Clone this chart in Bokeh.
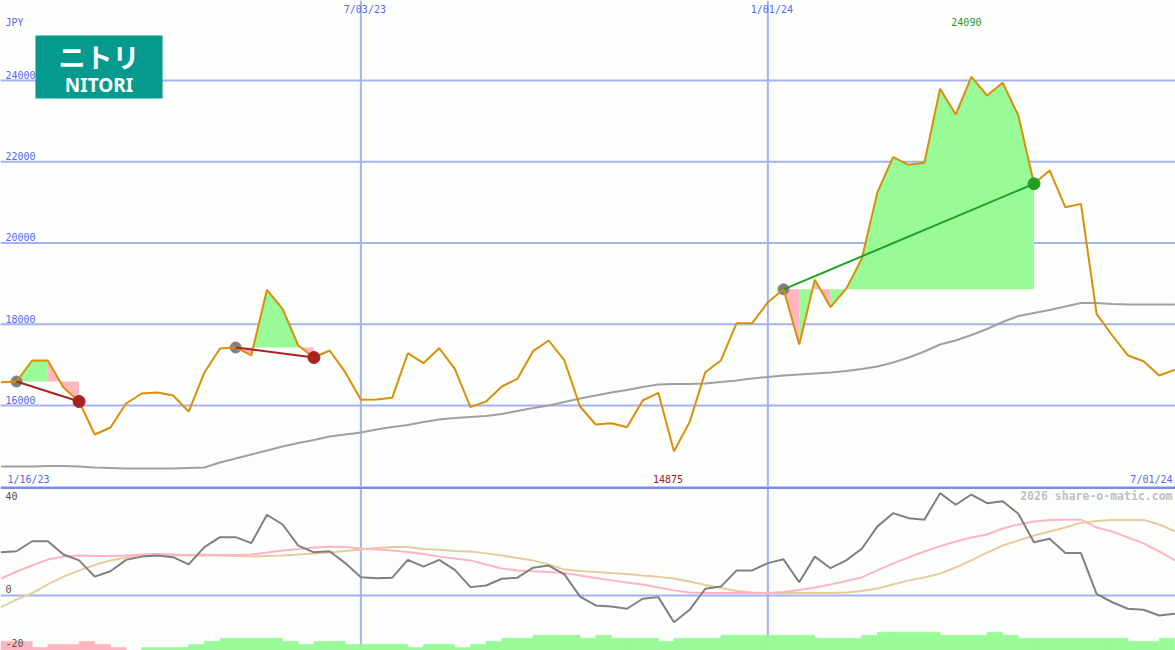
import numpy as np
import pandas as pd
from bokeh.plotting import figure
from bokeh.layouts import column
from bokeh.models import Range1d, Span, Label, BoxAnnotation
from bokeh.embed import file_html
from bokeh.resources import INLINE

# ---------------- data ----------------
dates = pd.date_range("2023-01-23", periods=76, freq="7D")

close = [16574, 16590, 17108, 17108, 16443, 16098, 15286, 15458, 16049, 16295,
         16320, 16246, 15852, 16812, 17403, 17428, 17231, 18848, 18380, 17477,
         17181, 17354, 16820, 16140, 16148, 16189, 17287, 17041, 17410, 16903,
         15959, 16098, 16468, 16657, 17337, 17600, 17108, 15975, 15532, 15565,
         15466, 16123, 16312, 14875, 15590, 16820, 17108, 18026, 18026, 18543,
         18860, 17502, 19094, 18420, 18870, 19611, 21250, 22112, 21925, 21974,
         23796, 23163, 24090, 23631, 23944, 23138, 21457, 21785, 20881, 20963,
         18257, 17723, 17231, 17090, 16738, 16879]

ma_long = [14498, 14498, 14498, 14511, 14511, 14498, 14474, 14462, 14449, 14449,
           14449, 14449, 14462, 14474, 14597, 14695, 14794, 14892, 14991, 15077,
           15151, 15237, 15286, 15335, 15409, 15471, 15520, 15594, 15655, 15692,
           15717, 15742, 15791, 15865, 15938, 16000, 16086, 16172, 16246, 16320,
           16382, 16455, 16517, 16529, 16529, 16542, 16578, 16615, 16665, 16702,
           16738, 16763, 16788, 16812, 16849, 16898, 16960, 17058, 17182, 17329,
           17502, 17600, 17735, 17883, 18055, 18203, 18277, 18351, 18437, 18523,
           18523, 18498, 18486, 18486, 18486, 18486]

osc = [16.0, 16.4, 20.1, 20.1, 15.2, 13.0, 7.0, 9.0, 13.2, 14.4,
       14.8, 14.2, 11.5, 17.9, 21.6, 21.6, 19.4, 29.9, 26.3, 18.5,
       16.0, 16.4, 12.0, 6.8, 6.4, 6.6, 13.2, 10.7, 13.2, 9.5,
       3.1, 3.7, 6.2, 6.6, 10.3, 11.1, 7.8, -0.4, -3.7, -4.1,
       -4.9, -1.2, -0.6, -9.9, -5.3, 2.5, 3.3, 9.3, 9.3, 12.0,
       13.4, 4.9, 14.4, 10.1, 13.0, 17.3, 25.6, 30.5, 28.6, 28.1,
       37.9, 33.6, 37.4, 34.2, 34.9, 30.3, 19.7, 21.0, 15.7, 15.7,
       0.6, -2.5, -4.9, -5.3, -7.4, -6.8]

osc_fast = [6.2, 8.9, 11.1, 13.3, 14.4, 14.8, 14.6, 14.6, 14.8, 15.2,
            15.4, 15.2, 14.8, 14.8, 15.0, 15.0, 15.2, 15.9, 16.7, 17.2,
            17.8, 18.1, 18.0, 17.4, 17.0, 16.7, 16.1, 15.4, 14.4, 13.7,
            13.0, 11.5, 10.0, 9.3, 9.0, 8.7, 8.3, 7.4, 6.5, 5.6,
            4.8, 4.1, 3.0, 1.9, 1.1, 0.9, 0.9, 0.9, 0.9, 0.9,
            1.3, 2.0, 3.0, 4.1, 5.4, 6.7, 9.3, 11.9, 14.1, 16.3,
            18.3, 20.0, 21.5, 22.6, 24.8, 26.3, 27.4, 28.0, 28.1, 28.1,
            25.2, 23.7, 21.5, 19.3, 16.3, 13.0]

osc_slow = [-4.3, -1.5, 0.9, 4.1, 7.0, 9.3, 11.3, 13.0, 14.1, 14.7,
            14.8, 14.8, 15.0, 15.2, 14.8, 14.6, 14.4, 14.6, 14.8, 15.2,
            15.6, 15.9, 16.5, 17.0, 17.6, 18.0, 18.0, 17.2, 16.9, 16.5,
            16.3, 15.6, 14.8, 13.9, 13.0, 11.5, 9.6, 9.1, 8.7, 8.3,
            8.0, 7.4, 6.9, 6.3, 5.2, 3.9, 2.8, 1.7, 1.1, 0.9,
            0.9, 0.9, 0.9, 0.9, 1.1, 1.7, 2.6, 4.1, 5.6, 6.7,
            8.1, 10.4, 13.0, 15.9, 18.5, 20.4, 22.2, 23.7, 25.2, 26.9,
            27.6, 28.0, 28.0, 28.0, 26.3, 23.8]

# weekly histogram (negative = pink, positive = green), one per week interval
hist = [-3, -3, -1, -2, -2, -3, -2, -1, 0, 1,
        1, 1, 2, 3, 4, 4, 4, 4, 3, 2,
        3, 3, 2, 2, 2, 2, 1, 2, 2, 1,
        2, 3, 4, 4, 5, 5, 5, 4, 5, 4,
        4, 4, 3, 4, 4, 4, 5, 5, 5, 5,
        5, 5, 4, 4, 4, 5, 6, 6, 6, 6,
        5, 5, 5, 6, 5, 4, 4, 4, 4, 4,
        4, 4, 3, 3, 4]

price_ticks = [16000, 18000, 20000, 22000, 24000]
osc_ticks = [40, 0, -20]
date_marks = ["2023-07-03", "2024-01-01"]
date_mark_labels = ["7/03/23", "1/01/24"]
range_labels = ["1/16/23", "7/01/24"]
currency = "JPY"
watermark = "2026 share-o-matic.com"
trades = [("2023-01-30", "2023-02-27"),
          ("2023-05-08", "2023-06-12"),
          ("2024-01-08", "2024-04-29")]

# ---------------- styles ----------------
BG = "#fcfefc"
GRID = "#a3b3f2"
SEP = "#7b8bea"
TXT_BLUE = "#5468f0"
PRICE = "#d98f0a"
MA = "#a0a0a0"
FILL_G = "#98fb98"
FILL_P = "#ffb6c1"
OSC = "#808080"
OSC_FAST = "#ffb4c6"
OSC_SLOW = "#e6cc9c"
LOSS = "#a82222"
WIN = "#22a022"
START = "#808080"
MONO = "DejaVu Sans Mono"
FS = "10px"

W, H_TOP, H_BOT = 1175, 486, 164
WEEK = 7 * 86400000.0
Y_TOP = (14006, 25969)
Y_BOT = (-20.37, 40.37)


def ms(d):
    return pd.Timestamp(d).value / 1e6


xs = [ms(d) for d in dates]
idx = {d: i for i, d in enumerate(dates.strftime("%Y-%m-%d"))}
x0 = xs[0]
x_range = Range1d(x0 - 0.0224 * WEEK, x0 + 75.04 * WEEK)


def lab(fig, x, y, text, xo=0, yo=0, align="left", color=TXT_BLUE, size=FS, font=MONO, style="normal"):
    fig.add_layout(Label(x=x, y=y, x_offset=xo, y_offset=yo, text=text, text_align=align,
                         text_baseline="middle", text_font=font, text_font_size=size,
                         text_font_style=style, text_color=color))


# ---------------- top panel ----------------
top = figure(width=W, height=H_TOP, x_range=x_range, y_range=Range1d(*Y_TOP),
             output_backend="svg", toolbar_location=None, min_border=0,
             x_axis_location=None, y_axis_location=None,
             background_fill_color=BG, border_fill_color=BG, outline_line_color=None)
top.grid.visible = False

for t in price_ticks:
    top.add_layout(Span(location=t, dimension="width", line_color=GRID, line_width=2, level="underlay"))
for d in date_marks:
    top.add_layout(Span(location=ms(d), dimension="height", line_color=GRID, line_width=2, level="underlay"))

# trade fills: runs of consecutive segments on the same side of the entry price
fx, fy, fc = [], [], []
for s, e in trades:
    i0, i1 = idx[s], idx[e]
    base = close[i0]
    up = [close[i + 1] >= base for i in range(i0, i1)]
    i = i0
    while i < i1:
        c = up[i - i0]
        j = i
        while j + 1 < i1 and up[j + 1 - i0] == c:
            j += 1
        fx.append([xs[i]] + [xs[k] for k in range(i, j + 2)] + [xs[j + 1]])
        fy.append([base] + [close[k] for k in range(i, j + 2)] + [base])
        fc.append(FILL_G if c else FILL_P)
        i = j + 1
top.patches(fx, fy, fill_color=fc, line_color=None)

top.line(xs, ma_long, line_color=MA, line_width=2)

# entry dots sit beneath the price line
for s, e in trades:
    i0 = idx[s]
    top.scatter([xs[i0]], [close[i0]], size=11, fill_color=START, line_color=START)

top.line(xs, close, line_color=PRICE, line_width=2)

for s, e in trades:
    i0, i1 = idx[s], idx[e]
    col = WIN if close[i1] > close[i0] else LOSS
    top.segment(x0=[xs[i0]], y0=[close[i0]], x1=[xs[i1]], y1=[close[i1]], line_color=col, line_width=2)
    top.scatter([xs[i1]], [close[i1]], size=12, fill_color=col, line_color=col)

# logo
top.add_layout(BoxAnnotation(left=x0 + 2.21 * WEEK, right=x0 + 10.33 * WEEK, top=25107, bottom=23557,
                             fill_color="#069a8e", fill_alpha=1.0, line_color=None))
lab(top, x0 + 6.27 * WEEK, 24591, "ニトリ", align="center", color="white", size="27px",
    font="Noto Sans CJK JP", style="bold")
lab(top, x0 + 6.27 * WEEK, 23901, "NITORI", align="center", color="white", size="19px",
    font="Noto Sans", style="bold")

# text labels
for t in price_ticks:
    lab(top, x_range.start, t, str(t), xo=5, yo=5.5)
lab(top, x_range.start, Y_TOP[1], currency, xo=5, yo=-21.5)
for d, txt in zip(date_marks, date_mark_labels):
    lab(top, ms(d), Y_TOP[1], txt, xo=4, yo=-8.5, align="center")
imax = int(np.argmax(close))
imin = int(np.argmin(close))
lab(top, xs[imax], Y_TOP[1], str(close[imax]), xo=-5, yo=-21, align="center", color="#2a962a")
lab(top, xs[imin], Y_TOP[0], str(close[imin]), xo=-6, yo=7.5, align="center", color="#a52020")
lab(top, x_range.start, Y_TOP[0], range_labels[0], xo=7, yo=7.5)
lab(top, x_range.end, Y_TOP[0], range_labels[1], xo=-3, yo=7.5, align="right")

# ---------------- bottom panel ----------------
bot = figure(width=W, height=H_BOT, x_range=x_range, y_range=Range1d(*Y_BOT),
             output_backend="svg", toolbar_location=None, min_border=0,
             x_axis_location=None, y_axis_location=None,
             background_fill_color=BG, border_fill_color=BG, outline_line_color=None)
bot.grid.visible = False
bot.extra_y_ranges = {"hist": Range1d(0, 53.8)}

for d in date_marks:
    bot.add_layout(Span(location=ms(d), dimension="height", line_color=GRID, line_width=2, level="underlay"))
bot.add_layout(Span(location=0, dimension="width", line_color=GRID, line_width=2, level="underlay"))

hx = [xs[j] + WEEK / 2 for j in range(len(hist))]
hc = [FILL_P if v < 0 else FILL_G for v in hist]
bot.vbar(x=hx, width=WEEK, bottom=0, top=[abs(v) for v in hist], fill_color=hc, line_color=hc,
         line_width=0.6, y_range_name="hist")

bot.line(xs, osc_slow, line_color=OSC_SLOW, line_width=2)
bot.line(xs, osc_fast, line_color=OSC_FAST, line_width=2)
bot.line(xs, osc, line_color=OSC, line_width=2)

bot.add_layout(Span(location=40, dimension="width", line_color=SEP, line_width=3))

offs = {40: -9, 0: 6.5, -20: 7}
for t in osc_ticks:
    lab(bot, x_range.start, t, str(t), xo=5, yo=offs[t], color="#505050")
lab(bot, x_range.end, 40, watermark, xo=-3, yo=-9, align="right", color="#c0c0c0",
    size="11.5px", style="bold")

layout = column(top, bot, spacing=0)
open("out.html", "w").write(file_html(layout, INLINE))
